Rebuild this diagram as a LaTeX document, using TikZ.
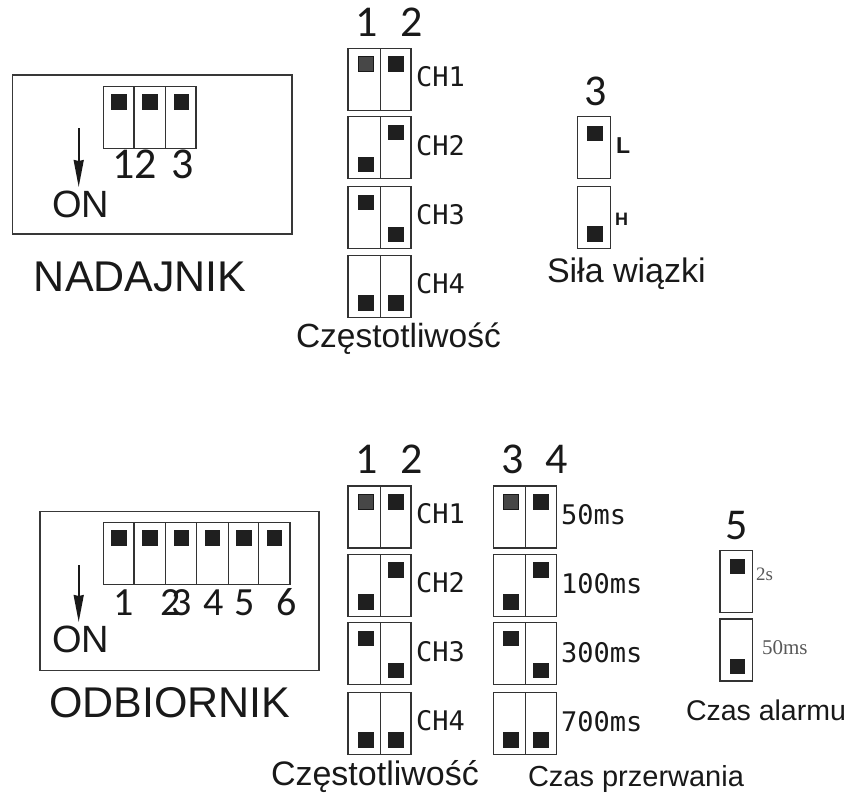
\documentclass[tikz,border=0pt]{standalone}
\usepackage{fontspec}
\setmainfont{Liberation Sans}
\newfontfamily\digf{Carlito}
\newfontfamily\monof{DejaVu Sans Mono}
\newfontfamily\serf{Liberation Serif}
\usetikzlibrary{arrows.meta}
\newcommand{\fs}[1]{\fontsize{#1}{#1}\selectfont}
\tikzset{
  frame/.style={draw=black!78, line width=1.3pt},
  swline/.style={draw=black!80, line width=1.4pt},
  sqfill/.style={fill=black!88},
  sqgrey/.style={fill=black!72, draw=black!90, line width=0.8pt},
  lbl/.style={inner sep=0pt, outer sep=0pt, text=black!90},
  onarrow/.style={draw=black!90, line width=1.8pt, -{Stealth[length=27pt,width=10pt,inset=1pt]}},
}
% two-position block: x, ytop, left offset, right offset, grey first?
\newcommand{\twosw}[5]{%
  \begin{scope}[shift={(#1,#2)}]
    \ifx#5g\fill[sqgrey] (10,#3) rectangle ++(15,15);\else\fill[sqfill] (10,#3) rectangle ++(15.5,15.5);\fi
    \fill[sqfill] (40,#4) rectangle ++(15.5,15.5);
    \draw[swline] (0,0) rectangle (63,62);
    \draw[swline] (32.4,0) -- (32.4,62);
  \end{scope}}
\newcommand{\onesw}[3]{%
  \begin{scope}[shift={(#1,#2)}]
    \fill[sqfill] (9.5,#3) rectangle ++(15.5,15.5);
    \draw[swline] (0,0) rectangle (32.6,62);
  \end{scope}}
\begin{document}
\begin{tikzpicture}[x=1pt,y=-1pt]
\useasboundingbox (0,0) rectangle (849,796);

% ================= NADAJNIK =================
\draw[frame] (12.5,75) rectangle (292,234);
\foreach \cx in {103.3,134,165.7}{
  \fill[sqfill] (\cx+8,94) rectangle ++(15.5,15.5);
}
\draw[swline] (103.3,86.7) rectangle (196,148.3);
\draw[swline] (134,86.7) -- (134,148.3);
\draw[swline] (165.7,86.7) -- (165.7,148.3);
\node[lbl, anchor=base, font=\digf\fs{44}] (n1) at (124,178) {1};
\node[lbl, anchor=base, font=\digf\fs{44}] (n2) at (146,178) {2};
\node[lbl, anchor=base, font=\digf\fs{44}] (n3) at (182.5,178) {3};
\coordinate (na) at (78.7,128);
\coordinate (nb) at (78.7,187);
\draw[onarrow] (na) -- (nb);
\node[lbl, anchor=base west, font=\fs{38}] (non) at (52,217) {ON};
\node[lbl, anchor=base west, font=\fs{43}] (ntitle) at (34,291) {NADAJNIK};

% top frequency
\node[lbl, anchor=base, font=\digf\fs{44}] (t1) at (367,36) {1};
\node[lbl, anchor=base, font=\digf\fs{44}] (t2) at (411.5,36) {2};
\twosw{348}{48.3}{8}{8}{g}
\twosw{348}{116.7}{40}{8}{n}
\twosw{348}{186.7}{8}{40}{n}
\twosw{348}{255.3}{40}{40}{n}
\node[lbl, anchor=west, font=\monof\fs{27}] (tc1) at (416,77) {CH1};
\node[lbl, anchor=west, font=\monof\fs{27}] (tc2) at (416,146) {CH2};
\node[lbl, anchor=west, font=\monof\fs{27}] (tc3) at (416,215) {CH3};
\node[lbl, anchor=west, font=\monof\fs{27}] (tc4) at (416,284) {CH4};
\node[lbl, anchor=base west, font=\fs{33.5}] (tfreq) at (296,347) {Częstotliwość};

% beam strength
\node[lbl, anchor=base, font=\digf\fs{44}] (s3) at (596,105) {3};
\onesw{577.7}{116.7}{9}
\onesw{577.7}{186.7}{39.5}
\node[lbl, anchor=west, font=\bfseries\fs{23}] (sL) at (616,146) {L};
\node[lbl, anchor=west, font=\bfseries\fs{18}] (sH) at (615,219.5) {H};
\node[lbl, anchor=base west, font=\fs{34}] (stitle) at (547,282) {Siła wiązki};

% ================= ODBIORNIK =================
\draw[frame] (40,511.5) rectangle (319,670.5);
\foreach \cx in {103.3,134,165.7,196.7,228.3,258.7}{
  \fill[sqfill] (\cx+8,530) rectangle ++(15.5,15.5);
}
\draw[swline] (103.3,522.3) rectangle (290,584.3);
\foreach \dx in {134,165.7,196.7,228.3,258.7}{
  \draw[swline] (\dx,522.3) -- (\dx,584.3);
}
\node[lbl, anchor=base, font=\digf\fs{40}] (o1) at (124,615) {1};
\node[lbl, anchor=base, font=\digf\fs{40}] (o2) at (171,615) {2};
\node[lbl, anchor=base, font=\digf\fs{40}] (o3) at (182,615) {3};
\node[lbl, anchor=base, font=\digf\fs{40}] (o4) at (213.5,615) {4};
\node[lbl, anchor=base, font=\digf\fs{40}] (o5) at (244.5,615) {5};
\node[lbl, anchor=base, font=\digf\fs{40}] (o6) at (287,615) {6};
\coordinate (oa) at (78.7,565);
\coordinate (ob) at (78.7,622);
\draw[onarrow] (oa) -- (ob);
\node[lbl, anchor=base west, font=\fs{38}] (oon) at (52,652) {ON};
\node[lbl, anchor=base west, font=\fs{43}] (otitle) at (49,717) {ODBIORNIK};

% bottom frequency
\node[lbl, anchor=base, font=\digf\fs{44}] (b1) at (367,473) {1};
\node[lbl, anchor=base, font=\digf\fs{44}] (b2) at (411.5,473) {2};
\twosw{348}{486}{8}{8}{g}
\twosw{348}{554.3}{40}{8}{n}
\twosw{348}{622.7}{8}{40}{n}
\twosw{348}{692.3}{40}{40}{n}
\node[lbl, anchor=west, font=\monof\fs{27}] (bc1) at (416,514) {CH1};
\node[lbl, anchor=west, font=\monof\fs{27}] (bc2) at (416,583) {CH2};
\node[lbl, anchor=west, font=\monof\fs{27}] (bc3) at (416,652) {CH3};
\node[lbl, anchor=west, font=\monof\fs{27}] (bc4) at (416,721) {CH4};
\node[lbl, anchor=base west, font=\fs{34}] (bfreq) at (271,785) {Częstotliwość};

% interruption time
\node[lbl, anchor=base, font=\digf\fs{44}] (b3) at (512.5,473) {3};
\node[lbl, anchor=base, font=\digf\fs{44}] (b4) at (557,473) {4};
\twosw{493.3}{486}{8}{8}{g}
\twosw{493.3}{554.3}{40}{8}{n}
\twosw{493.3}{622.7}{8}{40}{n}
\twosw{493.3}{692.3}{40}{40}{n}
\node[lbl, anchor=west, font=\monof\fs{27}] (m1) at (561,515) {50ms};
\node[lbl, anchor=west, font=\monof\fs{27}] (m2) at (561,584) {100ms};
\node[lbl, anchor=west, font=\monof\fs{27}] (m3) at (561,653) {300ms};
\node[lbl, anchor=west, font=\monof\fs{27}] (m4) at (561,722) {700ms};
\node[lbl, anchor=base west, font=\fs{29}] (btime) at (528,786) {Czas przerwania};

% alarm time
\node[lbl, anchor=base, font=\digf\fs{44}] (b5) at (737,539) {5};
\onesw{720}{550.7}{8}
\onesw{720}{619}{39.5}
\node[lbl, anchor=west, font=\serf\fs{19}, text=black!65] (a2s) at (756,574) {2s};
\node[lbl, anchor=west, font=\serf\fs{21}, text=black!65] (a50) at (762,647.5) {50ms};
\node[lbl, anchor=base west, font=\fs{28.5}] (atitle) at (686,720) {Czas alarmu};
\end{tikzpicture}
\end{document}
